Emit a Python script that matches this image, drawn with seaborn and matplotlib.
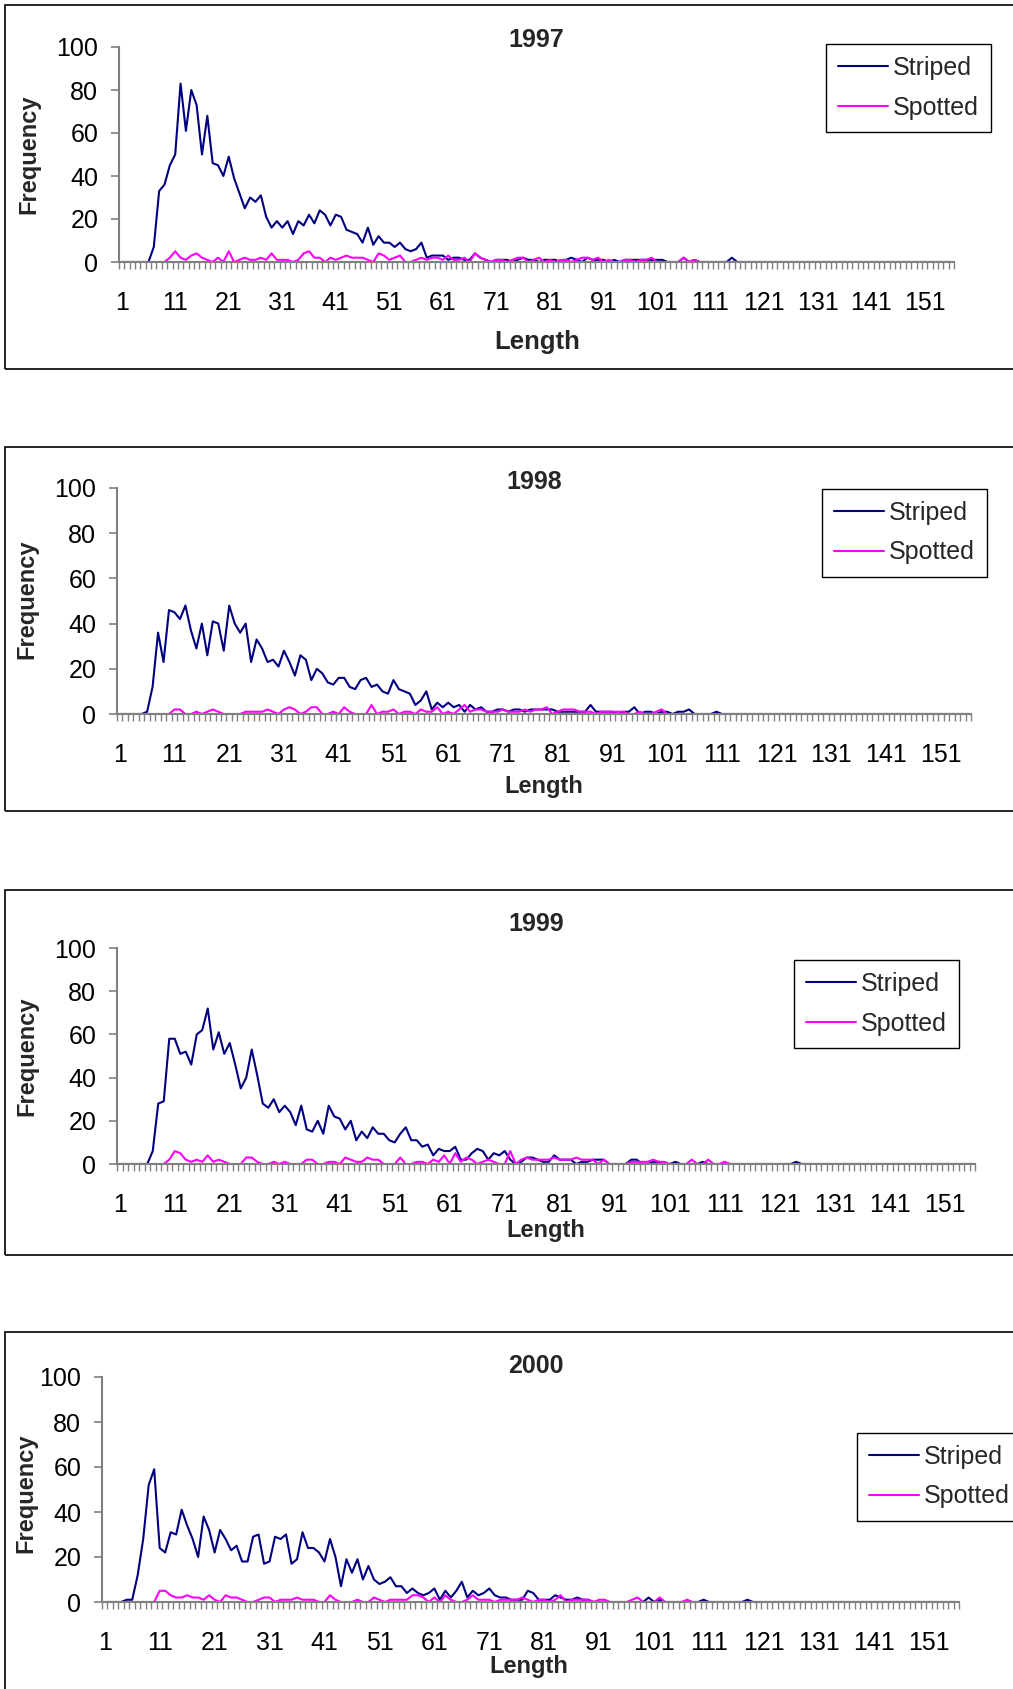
import matplotlib
matplotlib.use("Agg")
import matplotlib.pyplot as plt
import seaborn as sns
import pandas as pd
from matplotlib.patches import Rectangle
from matplotlib.ticker import FixedLocator

# ---------------- data ----------------
lengths = list(range(1, 157))
tick_values = [1, 11, 21, 31, 41, 51, 61, 71, 81, 91, 101, 111, 121, 131, 141, 151]
tick_labels = ["1", "11", "21", "31", "41", "51", "61", "71", "81", "91",
               "101", "111", "121", "131", "141", "151"]
y_ticks = [0, 20, 40, 60, 80, 100]
years = ["1997", "1998", "1999", "2000"]
series_names = ["Striped", "Spotted"]

striped_1997 = [
    0, 0, 0, 0, 0, 0, 7, 33, 36, 45,
    50, 83, 61, 80, 73, 50, 68, 46, 45, 40,
    49, 39, 32, 25, 30, 28, 31, 21, 16, 19,
    16, 19, 13, 19, 17, 22, 18, 24, 22, 17,
    22, 21, 15, 14, 13, 9, 16, 8, 12, 9,
    9, 7, 9, 6, 5, 6, 9, 2, 3, 3,
    3, 1, 2, 2, 1, 1, 4, 2, 1, 0,
    1, 1, 1, 0, 1, 2, 1, 1, 0, 1,
    1, 1, 0, 1, 2, 1, 0, 2, 1, 1,
    1, 0, 1, 0, 1, 1, 1, 1, 1, 1,
    1, 1, 0, 0, 0, 2, 0, 1, 0, 0,
    0, 0, 0, 0, 2, 0, 0, 0, 0, 0,
    0, 0, 0, 0, 0, 0, 0, 0, 0, 0,
    0, 0, 0, 0, 0, 0, 0, 0, 0, 0,
    0, 0, 0, 0, 0, 0, 0, 0, 0, 0,
    0, 0, 0, 0, 0, 0,
]
spotted_1997 = [
    0, 0, 0, 0, 0, 0, 0, 0, 0, 2,
    5, 2, 1, 3, 4, 2, 1, 0, 2, 0,
    5, 0, 1, 2, 1, 1, 2, 1, 4, 1,
    1, 1, 0, 1, 4, 5, 2, 2, 0, 2,
    1, 2, 3, 2, 2, 2, 1, 0, 4, 3,
    1, 2, 3, 0, 0, 1, 2, 1, 2, 2,
    1, 3, 1, 1, 2, 0, 4, 2, 1, 0,
    1, 1, 0, 1, 2, 2, 0, 1, 2, 0,
    1, 0, 1, 1, 0, 1, 2, 2, 1, 2,
    0, 1, 0, 0, 1, 1, 0, 1, 1, 2,
    0, 0, 0, 0, 0, 2, 0, 1, 0, 0,
    0, 0, 0, 0, 0, 0, 0, 0, 0, 0,
    0, 0, 0, 0, 0, 0, 0, 0, 0, 0,
    0, 0, 0, 0, 0, 0, 0, 0, 0, 0,
    0, 0, 0, 0, 0, 0, 0, 0, 0, 0,
    0, 0, 0, 0, 0, 0,
]
striped_1998 = [
    0, 0, 0, 0, 0, 1, 12, 36, 23, 46,
    45, 42, 48, 37, 29, 40, 26, 41, 40, 28,
    48, 40, 36, 40, 23, 33, 29, 23, 24, 21,
    28, 23, 17, 26, 24, 15, 20, 18, 14, 13,
    16, 16, 12, 11, 15, 16, 12, 13, 10, 9,
    15, 11, 10, 9, 4, 6, 10, 2, 5, 3,
    5, 3, 4, 1, 4, 2, 3, 1, 1, 2,
    2, 1, 2, 2, 1, 2, 2, 2, 2, 2,
    1, 1, 1, 1, 1, 1, 4, 1, 1, 1,
    1, 0, 1, 1, 3, 0, 1, 1, 0, 1,
    1, 0, 1, 1, 2, 0, 0, 0, 0, 1,
    0, 0, 0, 0, 0, 0, 0, 0, 0, 0,
    0, 0, 0, 0, 0, 0, 0, 0, 0, 0,
    0, 0, 0, 0, 0, 0, 0, 0, 0, 0,
    0, 0, 0, 0, 0, 0, 0, 0, 0, 0,
    0, 0, 0, 0, 0, 0,
]
spotted_1998 = [
    0, 0, 0, 0, 0, 0, 0, 0, 0, 0,
    2, 2, 0, 0, 1, 0, 1, 2, 1, 0,
    0, 0, 0, 1, 1, 1, 1, 2, 1, 0,
    2, 3, 2, 0, 1, 3, 3, 0, 0, 1,
    0, 3, 1, 0, 0, 0, 4, 0, 1, 1,
    2, 0, 1, 1, 0, 2, 1, 1, 3, 0,
    1, 0, 2, 4, 1, 2, 2, 1, 1, 1,
    2, 1, 1, 1, 2, 1, 2, 2, 3, 0,
    1, 2, 2, 2, 1, 1, 1, 0, 1, 1,
    1, 1, 1, 0, 0, 1, 0, 0, 1, 2,
    0, 0, 0, 0, 0, 0, 0, 0, 0, 0,
    0, 0, 0, 0, 0, 0, 0, 0, 0, 0,
    0, 0, 0, 0, 0, 0, 0, 0, 0, 0,
    0, 0, 0, 0, 0, 0, 0, 0, 0, 0,
    0, 0, 0, 0, 0, 0, 0, 0, 0, 0,
    0, 0, 0, 0, 0, 0,
]
striped_1999 = [
    0, 0, 0, 0, 0, 0, 6, 28, 29, 58,
    58, 51, 52, 46, 60, 62, 72, 53, 61, 51,
    56, 46, 35, 40, 53, 41, 28, 26, 30, 24,
    27, 24, 18, 27, 16, 15, 20, 14, 27, 22,
    21, 16, 20, 11, 15, 12, 17, 14, 14, 11,
    10, 14, 17, 11, 11, 8, 9, 4, 7, 6,
    6, 8, 2, 2, 5, 7, 6, 2, 5, 4,
    6, 2, 0, 1, 3, 3, 2, 1, 1, 4,
    2, 2, 2, 0, 1, 1, 2, 2, 2, 0,
    0, 0, 0, 2, 2, 0, 0, 1, 1, 0,
    0, 1, 0, 0, 0, 0, 1, 0, 0, 0,
    0, 0, 0, 0, 0, 0, 0, 0, 0, 0,
    0, 0, 0, 1, 0, 0, 0, 0, 0, 0,
    0, 0, 0, 0, 0, 0, 0, 0, 0, 0,
    0, 0, 0, 0, 0, 0, 0, 0, 0, 0,
    0, 0, 0, 0, 0, 0,
]
spotted_1999 = [
    0, 0, 0, 0, 0, 0, 0, 0, 0, 2,
    6, 5, 2, 1, 2, 1, 4, 1, 2, 1,
    0, 0, 0, 3, 3, 1, 0, 0, 1, 0,
    1, 0, 0, 0, 2, 2, 0, 0, 1, 1,
    0, 3, 2, 1, 1, 3, 2, 2, 0, 0,
    0, 3, 0, 0, 1, 1, 0, 2, 1, 4,
    0, 5, 1, 3, 2, 0, 1, 2, 1, 0,
    0, 6, 0, 2, 3, 2, 2, 2, 2, 3,
    2, 2, 2, 3, 2, 2, 2, 0, 2, 0,
    0, 0, 0, 1, 1, 1, 1, 2, 1, 1,
    0, 0, 0, 0, 2, 0, 0, 2, 0, 0,
    1, 0, 0, 0, 0, 0, 0, 0, 0, 0,
    0, 0, 0, 0, 0, 0, 0, 0, 0, 0,
    0, 0, 0, 0, 0, 0, 0, 0, 0, 0,
    0, 0, 0, 0, 0, 0, 0, 0, 0, 0,
    0, 0, 0, 0, 0, 0,
]
striped_2000 = [
    0, 0, 0, 0, 1, 1, 12, 28, 52, 59,
    24, 22, 31, 30, 41, 34, 28, 20, 38, 32,
    22, 32, 28, 23, 25, 18, 18, 29, 30, 17,
    18, 29, 28, 30, 17, 19, 31, 24, 24, 22,
    18, 28, 20, 7, 19, 13, 19, 10, 16, 10,
    8, 9, 11, 7, 7, 4, 6, 4, 3, 4,
    6, 1, 5, 2, 5, 9, 2, 5, 3, 4,
    6, 3, 2, 2, 1, 1, 1, 5, 4, 1,
    1, 1, 3, 2, 1, 1, 2, 1, 1, 0,
    0, 0, 0, 0, 0, 0, 0, 0, 0, 2,
    0, 1, 0, 0, 0, 0, 0, 0, 0, 1,
    0, 0, 0, 0, 0, 0, 0, 1, 0, 0,
    0, 0, 0, 0, 0, 0, 0, 0, 0, 0,
    0, 0, 0, 0, 0, 0, 0, 0, 0, 0,
    0, 0, 0, 0, 0, 0, 0, 0, 0, 0,
    0, 0, 0, 0, 0, 0,
]
spotted_2000 = [
    0, 0, 0, 0, 0, 0, 0, 0, 0, 0,
    5, 5, 3, 2, 2, 3, 2, 2, 1, 3,
    1, 0, 3, 2, 2, 1, 0, 0, 1, 2,
    2, 0, 1, 1, 1, 2, 1, 1, 1, 0,
    0, 3, 1, 0, 0, 0, 1, 0, 0, 2,
    1, 0, 1, 1, 1, 1, 3, 3, 2, 0,
    2, 0, 3, 1, 0, 0, 1, 3, 1, 1,
    1, 0, 1, 1, 1, 1, 2, 1, 0, 1,
    1, 0, 1, 3, 0, 1, 1, 1, 1, 0,
    1, 1, 0, 0, 0, 0, 1, 2, 0, 0,
    0, 2, 0, 0, 0, 0, 1, 0, 0, 0,
    0, 0, 0, 0, 0, 0, 0, 0, 0, 0,
    0, 0, 0, 0, 0, 0, 0, 0, 0, 0,
    0, 0, 0, 0, 0, 0, 0, 0, 0, 0,
    0, 0, 0, 0, 0, 0, 0, 0, 0, 0,
    0, 0, 0, 0, 0, 0,
]

striped_all = [striped_1997, striped_1998, striped_1999, striped_2000]
spotted_all = [spotted_1997, spotted_1998, spotted_1999, spotted_2000]

# ---------------- layout (pixels of the 1013 x 1689 canvas) ----------------
W, H = 1013, 1689
# plot area: left, right, top(=100), bottom(=0)
plot_px = [(119, 954, 47, 262), (117, 971, 488, 714),
           (117, 975, 948, 1164), (102, 959, 1377, 1602)]
box_px = [(5, 369), (5, 811), (5, 1255), (5, 1332 + 420)]
box_top = [5, 447, 890, 1332]
title_px = [(536, 40), (534, 482), (536, 924), (536, 1366)]
ylab_px = [(29, 154), (27, 599), (27, 1056), (26, 1493)]
xlab_px = [(537, 342), (544, 787), (546, 1231), (529, 1666)]
legend_px = [(826, 44), (822, 489), (794, 960), (857, 1433)]
xlab_size = [18.5, 17, 17, 17]

palette = {"Striped": "#000080", "Spotted": "#FF00FF"}
grey = "#808080"

sns.set_style("white")
plt.rcParams["font.family"] = ["Liberation Sans", "DejaVu Sans"]

fig = plt.figure(figsize=(W / 100, H / 100), dpi=100)
fig.patch.set_facecolor("white")

for i, year in enumerate(years):
    l, r, t, b = plot_px[i]
    ax = fig.add_axes([l / W, 1 - b / H, (r - l) / W, (b - t) / H])
    ax.set_facecolor("none")

    df = pd.DataFrame({
        "Length": lengths + lengths,
        "Frequency": striped_all[i] + spotted_all[i],
        "Species": [series_names[0]] * len(lengths) + [series_names[1]] * len(lengths),
    })
    sns.lineplot(data=df, x="Length", y="Frequency", hue="Species",
                 hue_order=series_names, palette=palette, linewidth=1.5,
                 estimator=None, ax=ax)

    ax.set_xlim(0.5, 156.5)
    ax.set_ylim(0, 100)
    ax.set_xlabel("")
    ax.set_ylabel("")

    for side in ["top", "right"]:
        ax.spines[side].set_visible(False)
    for side in ["left", "bottom"]:
        ax.spines[side].set_color(grey)
        ax.spines[side].set_linewidth(1.5)

    ax.set_yticks(y_ticks)
    ax.set_yticklabels([str(v) for v in y_ticks])
    ax.tick_params(axis="y", which="major", left=True, length=6, width=1.2,
                   color=grey, pad=9, labelsize=18, labelcolor="black")

    ax.set_xticks(tick_values)
    ax.set_xticklabels(tick_labels)
    ax.xaxis.set_minor_locator(FixedLocator([k + 0.5 for k in range(0, 157)]))
    ax.tick_params(axis="x", which="major", bottom=True, length=0, pad=21,
                   labelsize=18, labelcolor="black")
    ax.tick_params(axis="x", which="minor", bottom=True, length=5, width=1,
                   color=grey)

    handles, labels = ax.get_legend_handles_labels()
    for h in handles:
        h.set_linewidth(1.5)
    lx, ly = legend_px[i]
    leg = ax.legend(handles, labels, loc="upper left",
                    bbox_to_anchor=(lx / W, 1 - ly / H),
                    bbox_transform=fig.transFigure, borderaxespad=0,
                    fontsize=18, frameon=True, fancybox=False, framealpha=1,
                    borderpad=0.48, labelspacing=0.62, handlelength=2.0,
                    handletextpad=0.2)
    leg.get_frame().set_edgecolor("black")
    leg.get_frame().set_linewidth(1.0)

    # chart-area border box
    x0, yb = box_px[i]
    yt = box_top[i]
    rect = Rectangle((x0 / W, 1 - yb / H), (W + 20 - x0) / W, (yb - yt) / H,
                     transform=fig.transFigure, fill=False,
                     edgecolor="black", linewidth=1.2)
    fig.add_artist(rect)

    tx, ty = title_px[i]
    fig.text(tx / W, 1 - ty / H, year, ha="center", va="center",
             fontsize=18, fontweight="bold")
    yx, yy = ylab_px[i]
    fig.text(yx / W, 1 - yy / H, "Frequency", ha="center", va="center",
             rotation=90, fontsize=17, fontweight="bold")
    xx, xy = xlab_px[i]
    fig.text(xx / W, 1 - xy / H, "Length", ha="center", va="center",
             fontsize=xlab_size[i], fontweight="bold")

fig.savefig("out.png", dpi=100)
